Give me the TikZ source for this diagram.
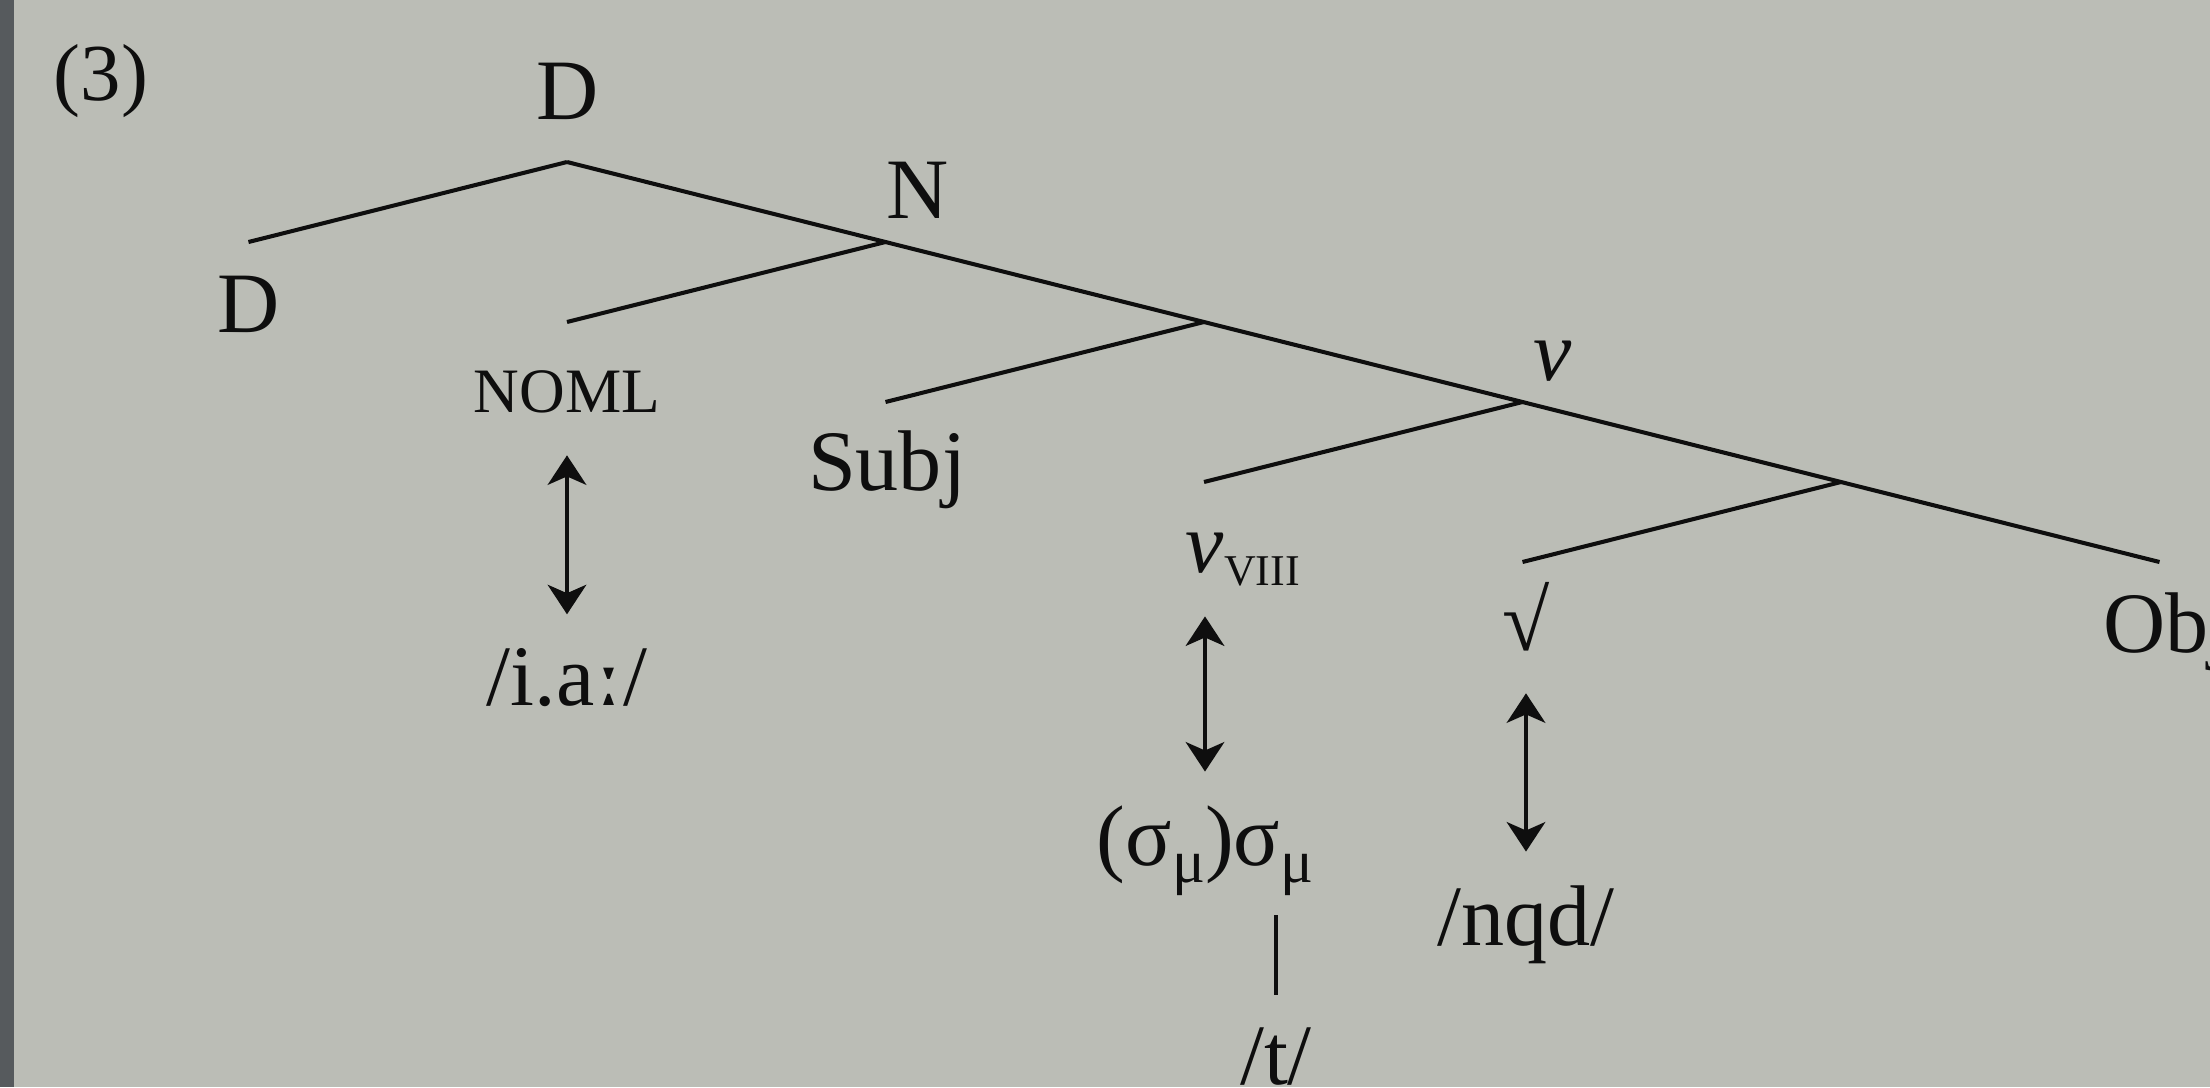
\documentclass[tikz,border=0pt]{standalone}
\usepackage{fontspec}
\setmainfont{Liberation Serif}
\newfontfamily\ipafont{DejaVu Serif}
\usetikzlibrary{arrows.meta,positioning}
\definecolor{slidebg}{RGB}{187,189,182}
\definecolor{slideedge}{RGB}{86,90,93}
\definecolor{ink}{RGB}{14,14,14}
\tikzset{
  branch/.style={line width=1.15pt, ink},
  corr/.style={{Stealth[length=8.4pt,width=11pt,inset=2.4pt]}-{Stealth[length=8.4pt,width=11pt,inset=2.4pt]},
    line width=1pt, ink, shorten <=0.42cm, shorten >=0.33cm},
  assoc/.style={line width=1.15pt, ink},
  lbl/.style={inner sep=0pt, anchor=base, text=ink, font=\fontsize{24.5}{29}\selectfont},
}
\newcommand{\fakesc}[2]{{\fontsize{#1}{#1}\selectfont #2}}
\newcommand{\musub}{\raisebox{-0.17cm}{\fontsize{17.5}{20}\selectfont μ}}

\begin{document}
\begin{tikzpicture}[scale=1.0]
    % slide background
    \fill[slidebg] (0,0) rectangle (22.10,-10.87);
    \fill[slideedge] (0,0) rectangle (0.14,-10.87);
    \useasboundingbox (0,0) rectangle (22.10,-10.87);

    \node[lbl, font=\fontsize{23}{27}\selectfont] (exnum) at (1.01,-1.00) {(3)};

    % branch points of the spine
    \coordinate (dp) at (5.67,-1.62);
    \coordinate (np) at (8.855,-2.42);
    \coordinate (xp) at (12.04,-3.22);
    \coordinate (vp) at (15.225,-4.02);
    \coordinate (rp) at (18.41,-4.82);
    % ends of the branches
    \coordinate (dend) at (2.485,-2.42);
    \coordinate (nomlend) at (5.67,-3.22);
    \coordinate (subjend) at (8.855,-4.02);
    \coordinate (vviiiend) at (12.04,-4.82);
    \coordinate (rootend) at (15.225,-5.62);
    \coordinate (objend) at (21.595,-5.62);

    \draw[branch] (dp) -- (np) -- (xp) -- (vp) -- (rp) -- (objend);
    \foreach \a/\b in {dp/dend, np/nomlend, xp/subjend, vp/vviiiend, rp/rootend}
      \draw[branch] (\a) -- (\b);

    % labels of the tree
    \node[lbl] (dtop) at (5.68,-1.19) {D};
    \node[lbl] (dleaf) at (2.49,-3.32) {D};
    \node[lbl] (nlab) at (9.18,-2.18) {N};
    \node[lbl] (noml) at (5.67,-4.12) {\fakesc{18}{NOML}};
    \node[lbl] (subj) at (8.87,-4.90) {Subj};
    \node[lbl] (vlab) at (15.53,-3.80) {\textit{v}};
    \node[lbl] (vviii) at (12.05,-5.72) {\textit{v}\rlap{\raisebox{-0.13cm}{\fakesc{12.5}{VIII}}}};
    \node[lbl] (root) at (15.26,-6.50) {√};
    \node[lbl] (obj) at (21.68,-6.52) {Obj};

    % exponents
    \node[lbl] (nomlph) at (5.67,-7.05) {/i.a{\ipafont ː}/};
    \node[lbl] (sylls) at (12.05,-8.65) {(σ\musub)σ\musub};
    \node[lbl] (tseg) at (12.76,-10.84) {/t/};
    \node[lbl] (rootph) at (15.26,-9.45) {/nqd/};

    \draw[corr] (noml) -- (nomlph);
    \draw[corr, shorten <=0.30cm] (vviii) -- (sylls);
    \draw[corr] (root) -- (rootph);
    \draw[assoc, shorten <=0.32cm, shorten >=0.19cm] (tseg) -- (tseg |- sylls.south);
\end{tikzpicture}
\end{document}
